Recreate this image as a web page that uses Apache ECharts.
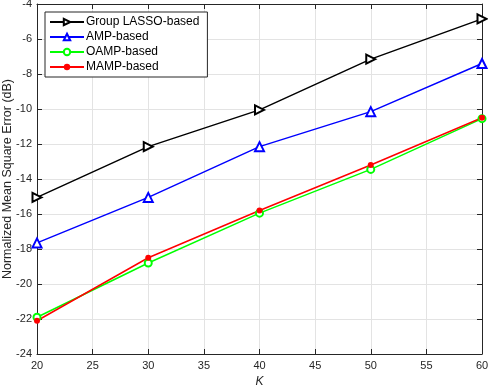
<!DOCTYPE html>
<html>
<head>
<meta charset="utf-8">
<script src="https://cdn.jsdelivr.net/npm/echarts@6/dist/echarts.min.js"></script>
<style>
  html, body { margin: 0; padding: 0; background: #fff; }
  #chart { width: 488px; height: 386px; }
</style>
</head>
<body>
<div id="chart"></div>
<script>
// K values on the x axis
const kValues = [20, 30, 40, 50, 60]
// NMSE (dB) per method
const lassoNmse = [-15.05, -12.15, -10.05, -7.15, -4.85]
const ampNmse = [-17.65, -15.05, -12.15, -10.15, -7.4]
const oampNmse = [-21.9, -18.8, -15.95, -13.45, -10.55]
const mampNmse = [-22.1, -18.5, -15.8, -13.2, -10.5]
const xTicks = [20, 25, 30, 35, 40, 45, 50, 55, 60]
const yTicks = [-24, -22, -20, -18, -16, -14, -12, -10, -8, -6, -4]

const font = 'Liberation Sans, Arial, sans-serif'
const pair = arr => kValues.map((k, i) => [k, arr[i]])

const chart = echarts.init(document.getElementById('chart'))

const baseX = {
  type: 'value',
  min: xTicks[0],
  max: xTicks[xTicks.length - 1],
  interval: 5,
  axisLine: { show: true, onZero: false, lineStyle: { color: '#262626', width: 1 } },
  axisTick: { show: true, inside: true, length: 5, lineStyle: { color: '#262626' } },
  splitLine: { show: true, lineStyle: { color: '#e3e3e3', width: 1 } }
}
const baseY = {
  type: 'value',
  min: yTicks[0],
  max: yTicks[yTicks.length - 1],
  interval: 2,
  axisLine: { show: true, onZero: false, lineStyle: { color: '#262626', width: 1 } },
  axisTick: { show: true, inside: true, length: 5, lineStyle: { color: '#262626' } },
  splitLine: { show: true, lineStyle: { color: '#e3e3e3', width: 1 } }
}

const option = {
  backgroundColor: '#fff',
  animation: false,
  grid: { left: 37, right: 6, top: 4, bottom: 32, containLabel: false, outerBoundsMode: 'none' },
  legend: {
    left: 45,
    top: 12,
    orient: 'vertical',
    backgroundColor: '#fff',
    borderColor: '#262626',
    borderWidth: 1,
    borderRadius: 0,
    padding: [4, 8, 4, 4],
    itemGap: 3,
    itemWidth: 34,
    itemHeight: 8,
    textStyle: { fontFamily: font, fontSize: 12, color: '#000', padding: [0, 0, 0, -3] },
    data: ['Group LASSO-based', 'AMP-based', 'OAMP-based', 'MAMP-based']
  },
  xAxis: [
    Object.assign({}, baseX, {
      position: 'bottom',
      name: 'K',
      nameLocation: 'middle',
      nameGap: 22,
      nameTextStyle: { fontFamily: font, fontSize: 12, fontStyle: 'italic', color: '#262626' },
      axisLabel: { fontFamily: font, fontSize: 11, color: '#262626', margin: 6 }
    }),
    Object.assign({}, baseX, {
      position: 'top',
      axisLabel: { show: false },
      splitLine: { show: false }
    })
  ],
  yAxis: [
    Object.assign({}, baseY, {
      position: 'left',
      name: 'Normalized Mean Square Error (dB)',
      nameLocation: 'middle',
      nameMoveOverlap: false,
      nameGap: 23,
      nameTextStyle: { fontFamily: font, fontSize: 12.5, color: '#262626' },
      axisLabel: { fontFamily: font, fontSize: 11, color: '#262626', margin: 5 }
    }),
    Object.assign({}, baseY, {
      position: 'right',
      axisLabel: { show: false },
      splitLine: { show: false }
    })
  ],
  series: [
    {
      name: 'Group LASSO-based',
      type: 'line',
      data: pair(lassoNmse),
      color: '#000',
      symbol: 'emptyTriangle',
      symbolRotate: -90,
      symbolSize: 9,
      lineStyle: { width: 1.5 },
      itemStyle: { borderWidth: 1.5 }
    },
    {
      name: 'AMP-based',
      type: 'line',
      data: pair(ampNmse),
      color: '#0000ff',
      symbol: 'emptyTriangle',
      symbolSize: 9,
      lineStyle: { width: 1.5 },
      itemStyle: { borderWidth: 1.5 }
    },
    {
      name: 'OAMP-based',
      type: 'line',
      data: pair(oampNmse),
      color: '#00ff00',
      symbol: 'emptyCircle',
      symbolSize: 7,
      lineStyle: { width: 1.5 },
      itemStyle: { borderWidth: 1.5 }
    },
    {
      name: 'MAMP-based',
      type: 'line',
      data: pair(mampNmse),
      color: '#ff0000',
      symbol: 'circle',
      symbolSize: 6,
      lineStyle: { width: 1.5 }
    }
  ]
}

chart.setOption(option)
</script>
</body>
</html>
